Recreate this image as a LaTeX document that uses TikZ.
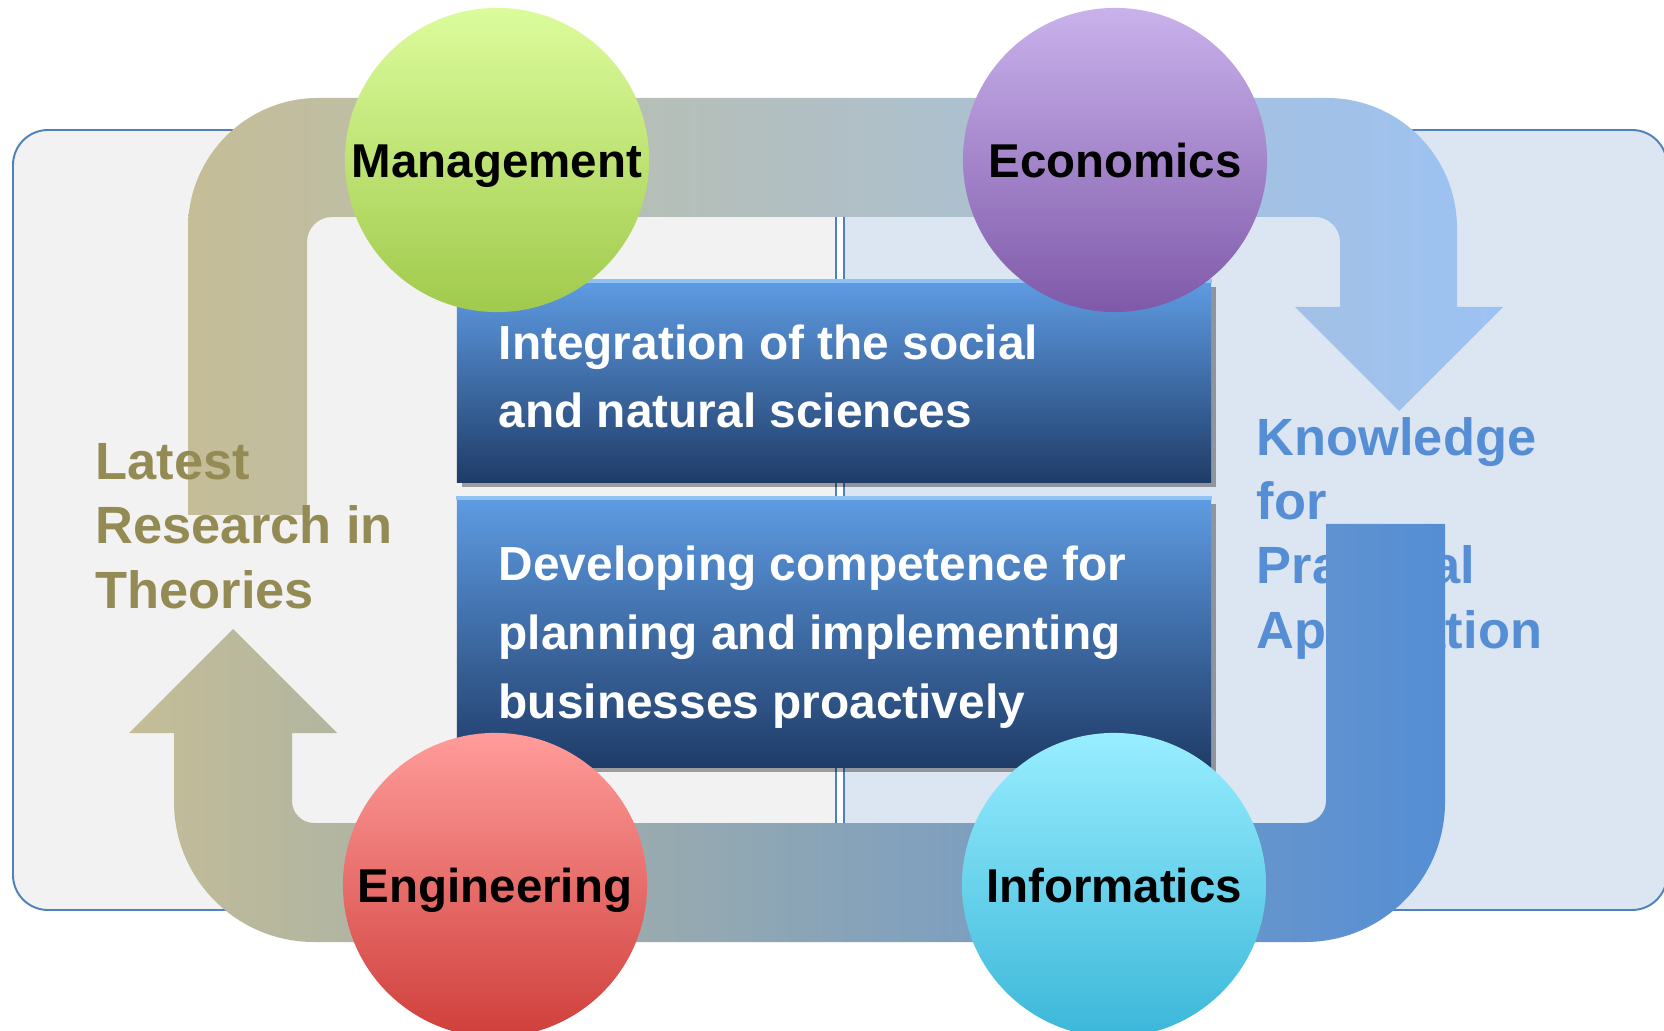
\documentclass[tikz,border=0pt]{standalone}
\usepackage{fontspec}
\setmainfont{Liberation Sans}
\usepackage{tikz}
\usetikzlibrary{shadows,positioning}

\definecolor{panelline}{HTML}{4F81BD}
\definecolor{panelgray}{HTML}{F2F2F2}
\definecolor{panelblue}{HTML}{DCE6F2}
\definecolor{tanarrow}{HTML}{C4BD97}
\definecolor{skyarrow}{HTML}{9CC2F4}
\definecolor{bluearrow}{HTML}{558ED5}
\definecolor{olivetext}{HTML}{948A54}
\definecolor{boxtop}{HTML}{5E9BE2}
\definecolor{boxmid}{HTML}{4674B0}
\definecolor{boxbot}{HTML}{1F3C68}
\definecolor{boxhi}{HTML}{8EC3F4}
\definecolor{mgtop}{HTML}{DCFC9C}
\definecolor{mgbot}{HTML}{A0CA4C}
\definecolor{ectop}{HTML}{C9B2EC}
\definecolor{ecbot}{HTML}{7F59A9}
\definecolor{entop}{HTML}{FF9C9A}
\definecolor{enbot}{HTML}{CF3F3B}
\definecolor{intop}{HTML}{98EEFF}
\definecolor{inbot}{HTML}{3BB7D9}

\tikzset{
  panel/.style={draw=panelline, line width=0.55pt, rounded corners=0.35cm},
  goalbox/.style={rectangle, inner sep=0pt, minimum width=7.54cm,
    top color=boxtop, middle color=boxmid, bottom color=boxbot,
    drop shadow={shadow xshift=0.05cm, shadow yshift=-0.05cm, opacity=0.35, fill=black}},
  goaltext/.style={anchor=base west, align=left, inner sep=0pt, text=white,
    font=\fontsize{13.6}{19.5}\selectfont\bfseries},
  sidetext/.style={anchor=base west, align=left, inner sep=0pt,
    font=\fontsize{14.9}{18.2}\selectfont\bfseries},
  discipline/.style={circle, inner sep=0pt, minimum size=3.04cm,
    text height=0.34cm, text depth=0pt,
    font=\fontsize{13.5}{16}\selectfont\bfseries}
}

\begin{document}
\begin{tikzpicture}[x=0.01cm, y=-0.01cm]
    \useasboundingbox (0,0) rectangle (1664,1031);
    \clip (0,0) rectangle (1664,1031);
    \fill[white] (0,0) rectangle (1664,1031);

    % Background panels
    \filldraw[panel, fill=panelgray] (13,130) rectangle (836,910);
    \filldraw[panel, fill=panelblue] (844,130) rectangle (1667,910);

    % Practice label sits under the return arrow (base = last line)
    \node[sidetext, text=bluearrow] (practice) at (1256,648)
        {Knowledge\\for\\Practical\\Application};

    % Upper arrow: theory -> practice
    \path[left color=tanarrow, right color=skyarrow]
        (188,515) [rounded corners=1.3cm] -- (188,98) -- (1457,98)
        [sharp corners] -- (1457,307) -- (1503,307) -- (1399,411) -- (1295,307) -- (1340,307)
        [rounded corners=0.25cm] -- (1340,217) -- (307,217)
        [sharp corners] -- (307,515) -- cycle;

    % Lower arrow: practice -> theory
    \path[left color=tanarrow, right color=bluearrow]
        (1326,524) -- (1445,524) [rounded corners=1.4cm] -- (1445,942) -- (174,942)
        [sharp corners] -- (174,733) -- (129,733) -- (233,629) -- (337,733) -- (292,733)
        [rounded corners=0.22cm] -- (292,823) -- (1326,823)
        [sharp corners] -- cycle;

    \node[sidetext, text=olivetext] (theory) at (95,608)
        {Latest\\Research in\\Theories};

    % Goal boxes
    \node[goalbox, minimum height=2.00cm] (box1) at (834,382) {};
    \node[goalbox, minimum height=2.68cm] (box2) at (834,633) {};
    \foreach \b in {box1, box2} {
        \draw[boxhi, line width=1.2pt] (\b.north west) -- (\b.north east);
    }
    \node[goaltext] (goal1) at (498,428)
        {Integration of the social\\and natural sciences};
    \node[goaltext] (goal2) at (498,718)
        {Developing competence for\\planning and implementing\\businesses proactively};

    % Disciplines
    \foreach \nm/\cx/\cy/\ctop/\cbot/\lbl in {
        mgmt/497/160/mgtop/mgbot/Management,
        econ/1115/160/ectop/ecbot/Economics,
        engi/495/885/entop/enbot/Engineering,
        info/1114/885/intop/inbot/Informatics} {
        \node[discipline, top color=\ctop, bottom color=\cbot] (\nm) at (\cx,\cy) {\lbl};
    }
\end{tikzpicture}
\end{document}
